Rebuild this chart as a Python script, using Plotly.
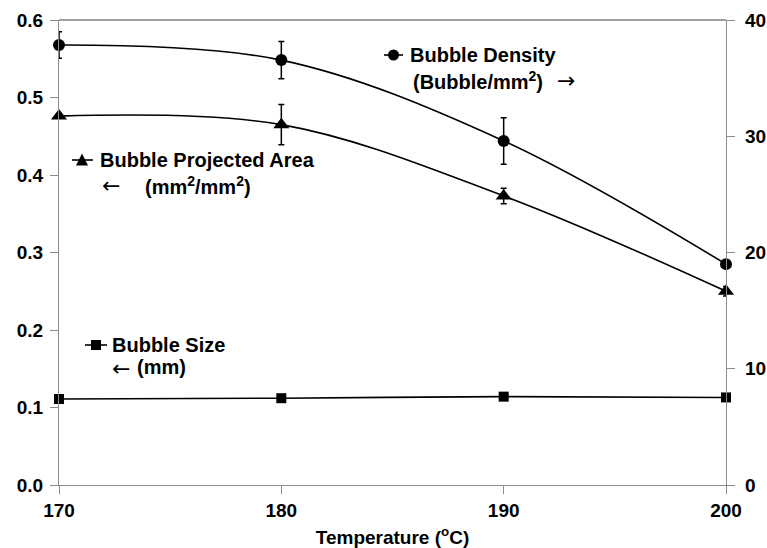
import plotly.graph_objects as go

temperature = [170, 180, 190, 200]
density = [37.85, 36.55, 29.6, 19.0]
density_err = [1.15, 1.6, 2.0, 0.0]
proj_area = [0.476, 0.465, 0.373, 0.250]
proj_area_err = [0.0, 0.026, 0.010, 0.006]
bubble_size = [0.111, 0.112, 0.114, 0.113]

x_ticks = [170, 180, 190, 200]
left_ticks = [0.0, 0.1, 0.2, 0.3, 0.4, 0.5, 0.6]
left_tick_text = ["0.0", "0.1", "0.2", "0.3", "0.4", "0.5", "0.6"]
right_ticks = [0, 10, 20, 30, 40]

W, H = 767, 548
L, R, T, B = 59, 41, 20, 63
PW, PH = W - L - R, H - T - B

def px(x):
    return (x - L) / PW

def py(y):
    return (H - B - y) / PH

FONT = "Liberation Sans, Arial, sans-serif"
fig = go.Figure()

fig.add_trace(go.Scatter(
    x=temperature, y=density, yaxis="y2", mode="lines+markers", cliponaxis=False,
    line=dict(color="black", width=1.6, shape="spline", smoothing=1),
    marker=dict(symbol="circle", size=12, color="black"),
    error_y=dict(type="data", array=density_err, visible=True, color="black", thickness=1.5, width=3),
    name="Bubble Density", showlegend=False))

fig.add_trace(go.Scatter(
    x=temperature, y=proj_area, yaxis="y", mode="lines+markers", cliponaxis=False,
    line=dict(color="black", width=1.6, shape="spline", smoothing=1),
    marker=dict(symbol="triangle-up", size=14, color="black"),
    error_y=dict(type="data", array=proj_area_err, visible=True, color="black", thickness=1.5, width=3),
    name="Bubble Projected Area", showlegend=False))

fig.add_trace(go.Scatter(
    x=temperature, y=bubble_size, yaxis="y", mode="lines+markers", cliponaxis=False,
    line=dict(color="black", width=1.6, shape="spline", smoothing=1),
    marker=dict(symbol="square", size=10, color="black"),
    name="Bubble Size", showlegend=False))

axis_gray = "#8c8c8c"
tickfont = dict(family=FONT, size=19, color="black", weight="bold")

fig.update_layout(
    width=W, height=H, margin=dict(l=L, r=R, t=T, b=B, autoexpand=False),
    paper_bgcolor="white", plot_bgcolor="white",
    font=dict(family=FONT, color="black"),
    xaxis=dict(range=[170, 200], tickvals=x_ticks, ticks="outside", ticklen=8, tickcolor=axis_gray,
               showline=True, linecolor=axis_gray, linewidth=1.2, showgrid=False, zeroline=False,
               tickfont=tickfont, automargin=False,
               title=dict(text="Temperature (<sup>o</sup>C)", font=dict(family=FONT, size=19, weight="bold"), standoff=14)),
    yaxis=dict(range=[0, 0.6], tickvals=left_ticks, ticktext=left_tick_text, ticks="outside", ticklen=8,
               tickcolor=axis_gray, showline=True, linecolor=axis_gray, linewidth=1.2, showgrid=False,
               zeroline=False, tickfont=tickfont, automargin=False, ticklabelstandoff=3),
    yaxis2=dict(range=[0, 40], tickvals=right_ticks, overlaying="y", side="right", ticks="outside", ticklen=8,
                tickcolor=axis_gray, showline=True, linecolor=axis_gray, linewidth=1.2, showgrid=False,
                zeroline=False, tickfont=tickfont, automargin=False, ticklabelstandoff=6),
)

# top border
fig.add_shape(type="line", xref="paper", yref="paper", x0=0, x1=1, y0=1, y1=1,
              line=dict(color="#404040", width=1.2))

ann_font = dict(family=FONT, size=20, color="black", weight="bold")
arrow_font = dict(family="DejaVu Sans", size=22, color="black")

def text(x, y, s, font=ann_font):
    fig.add_annotation(xref="paper", yref="paper", x=px(x), y=py(y), text=s, showarrow=False,
                       xanchor="left", yanchor="middle", font=font)

# legend-like key: Bubble Density
fig.add_shape(type="line", xref="paper", yref="paper", x0=px(384), x1=px(403), y0=py(55), y1=py(55),
              line=dict(color="black", width=1.6))
fig.add_shape(type="circle", xref="paper", yref="paper", x0=px(388), x1=px(399), y0=py(60.5), y1=py(49.5),
              fillcolor="black", line=dict(color="black", width=0))
text(408, 55, "Bubble Density")
text(411, 80, "(Bubble/mm<sup>2</sup>)")
text(555, 80, "→", arrow_font)

# Bubble Projected Area
fig.add_shape(type="line", xref="paper", yref="paper", x0=px(72), x1=px(93), y0=py(160), y1=py(160),
              line=dict(color="black", width=1.6))
fig.add_shape(type="path", xref="paper", yref="paper",
              path=f"M {px(76)},{py(165.5)} L {px(88)},{py(165.5)} L {px(82)},{py(153.5)} Z",
              fillcolor="black", line=dict(color="black", width=0))
text(98, 160, "Bubble Projected Area")
text(100, 186, "←", arrow_font)
text(143, 185, "(mm<sup>2</sup>/mm<sup>2</sup>)")

# Bubble Size
fig.add_shape(type="line", xref="paper", yref="paper", x0=px(85), x1=px(107), y0=py(345), y1=py(345),
              line=dict(color="black", width=1.6))
fig.add_shape(type="rect", xref="paper", yref="paper", x0=px(91), x1=px(101), y0=py(350), y1=py(340),
              fillcolor="black", line=dict(color="black", width=0))
text(110, 345, "Bubble Size")
text(110, 368, "←", arrow_font)
text(135, 367, "(mm)")

fig.write_html("out.html")
